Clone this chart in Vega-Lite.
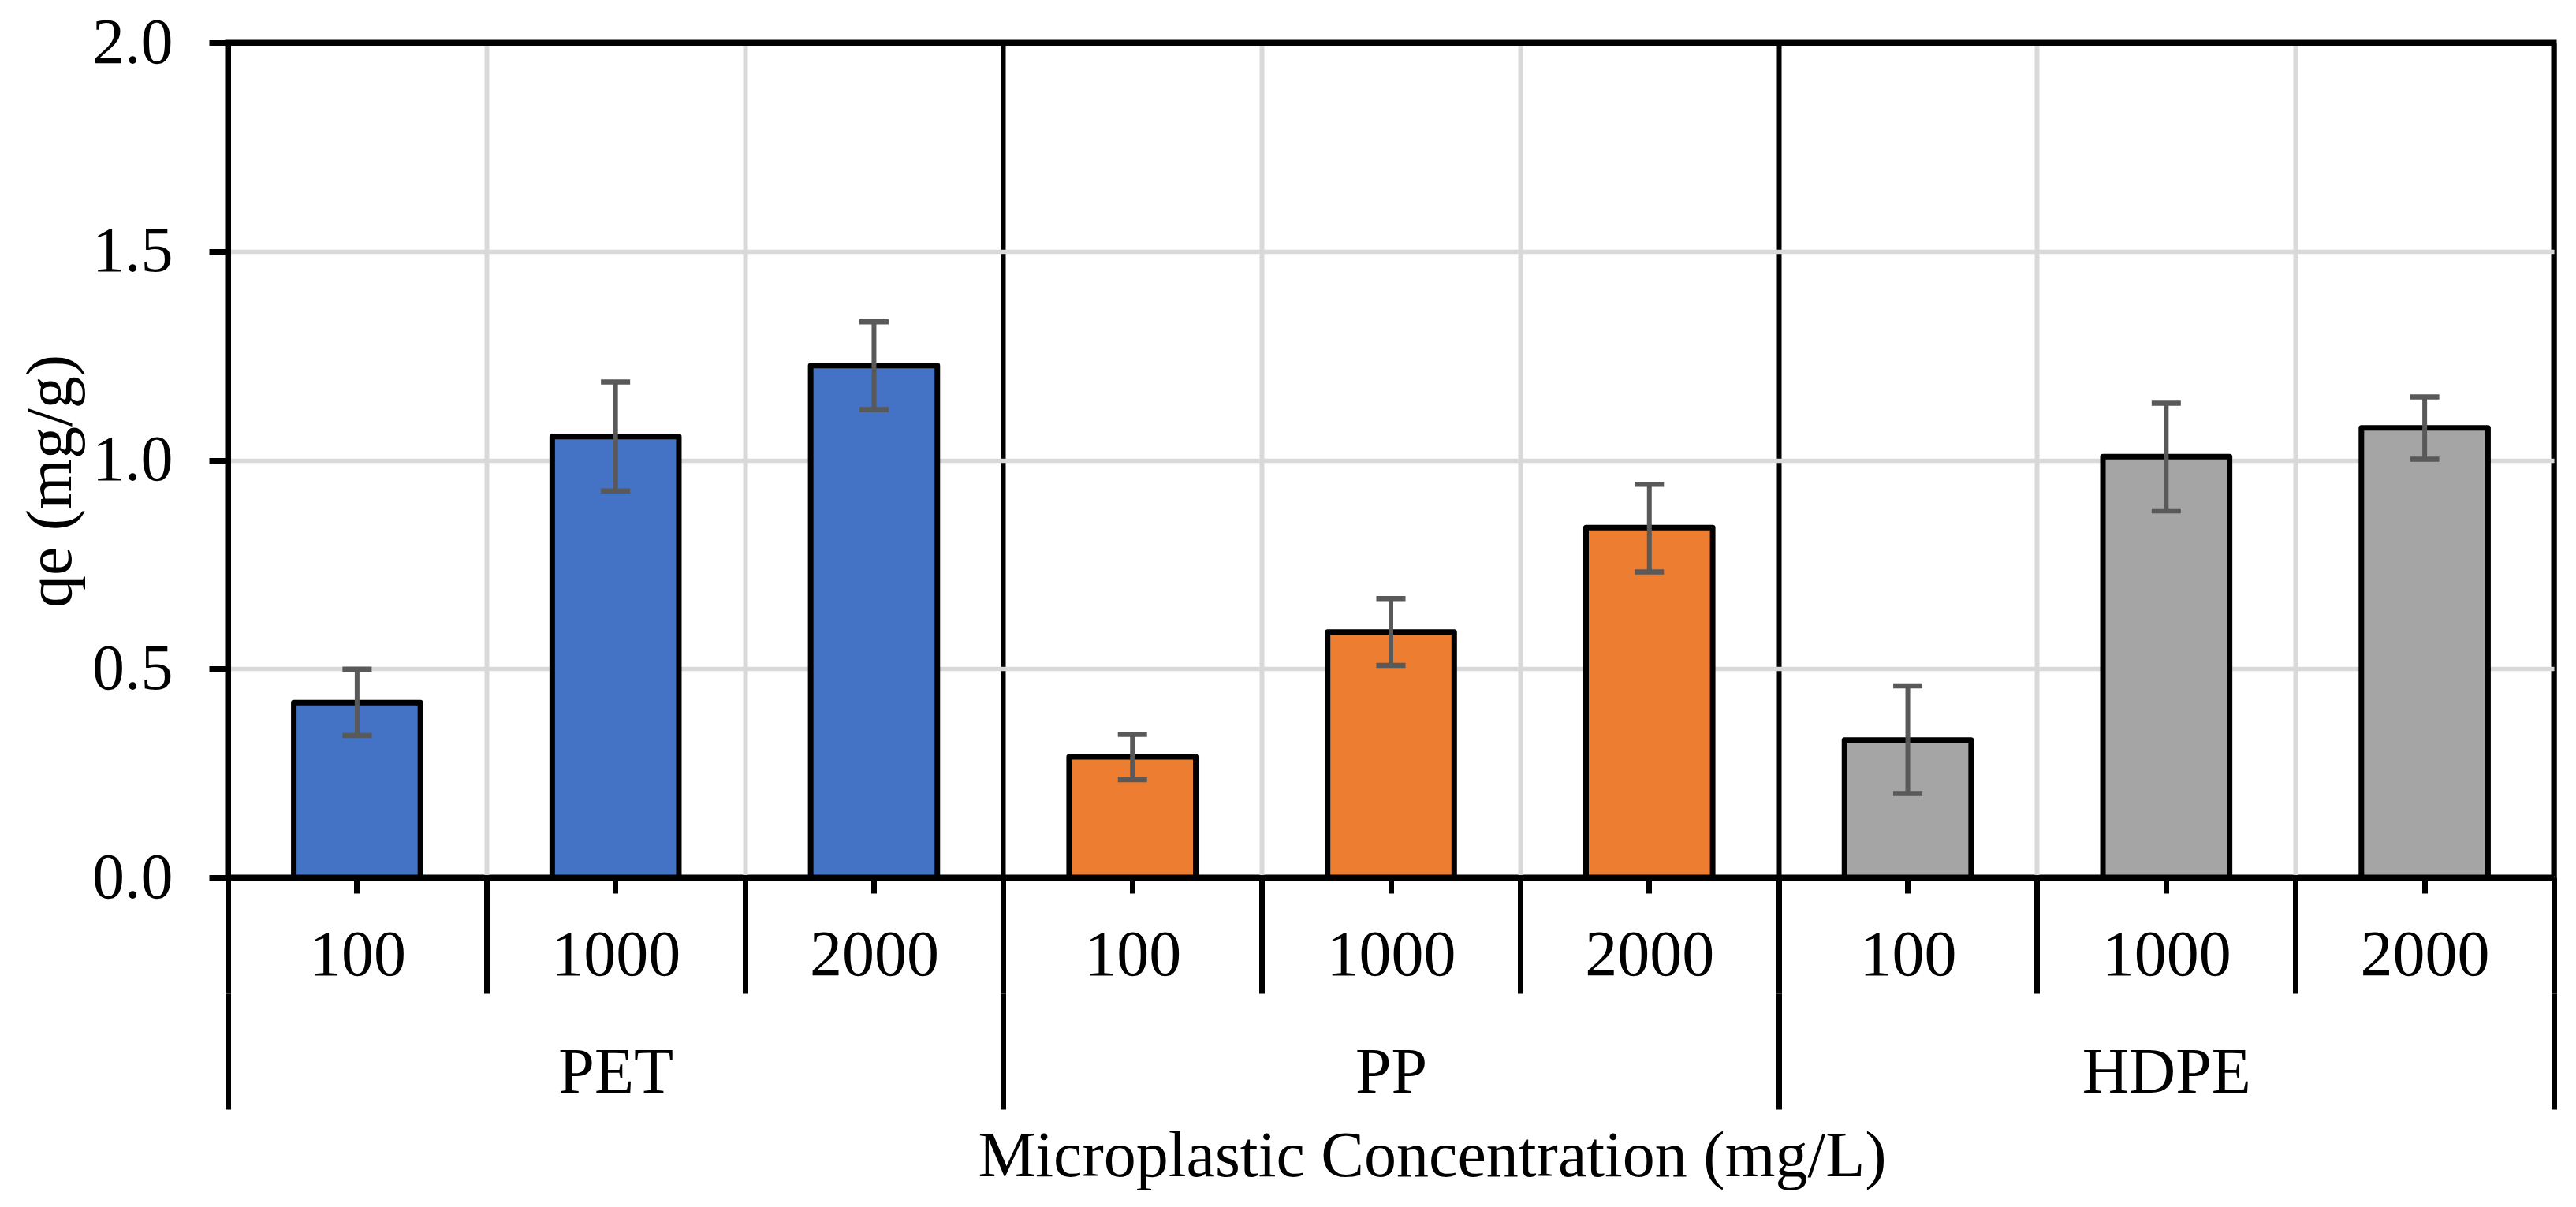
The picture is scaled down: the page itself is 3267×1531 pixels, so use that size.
{
  "$schema": "https://vega.github.io/schema/vega-lite/v6.json",
  "autosize": "none",
  "width": 2950,
  "height": 1059,
  "padding": {"left": 289, "top": 54, "right": 27, "bottom": 418},
  "background": "white",
  "data": {
    "values": [
      {"polymer": "PET", "conc": "100", "cat": "PET|100", "qe": 0.419, "lo": 0.340, "hi": 0.499},
      {"polymer": "PET", "conc": "1000", "cat": "PET|1000", "qe": 1.056, "lo": 0.926, "hi": 1.187},
      {"polymer": "PET", "conc": "2000", "cat": "PET|2000", "qe": 1.226, "lo": 1.121, "hi": 1.331},
      {"polymer": "PP", "conc": "100", "cat": "PP|100", "qe": 0.289, "lo": 0.234, "hi": 0.343},
      {"polymer": "PP", "conc": "1000", "cat": "PP|1000", "qe": 0.588, "lo": 0.508, "hi": 0.668},
      {"polymer": "PP", "conc": "2000", "cat": "PP|2000", "qe": 0.838, "lo": 0.732, "hi": 0.942},
      {"polymer": "HDPE", "conc": "100", "cat": "HDPE|100", "qe": 0.329, "lo": 0.201, "hi": 0.459},
      {"polymer": "HDPE", "conc": "1000", "cat": "HDPE|1000", "qe": 1.008, "lo": 0.878, "hi": 1.136},
      {"polymer": "HDPE", "conc": "2000", "cat": "HDPE|2000", "qe": 1.077, "lo": 1.002, "hi": 1.151}
    ]
  },
  "encoding": {
    "y": {
      "type": "quantitative",
      "scale": {"domain": [0, 2], "nice": false},
      "axis": {
        "orient": "left",
        "title": "qe (mg/g)", "values": [0, 0.5, 1, 1.5, 2], "format": ".1f",
        "grid": true,
        "gridColor": {"condition": {"test": "datum.value >= 2", "value": "black"}, "value": "#D9D9D9"},
        "gridWidth": {"condition": {"test": "datum.value >= 2", "value": 7}, "value": 5.5},
        "domain": true, "domainColor": "black", "domainWidth": 7,
        "ticks": true, "tickColor": "black", "tickWidth": 7, "tickSize": 24,
        "labels": true, "labelPadding": 46, "titlePadding": 10, "titleY": 556
      }
    }
  },
  "resolve": {"axis": {"x": "independent", "y": "shared"}},
  "layer": [
    {
      "mark": {"type": "bar", "width": {"band": 0.49}, "stroke": "black", "strokeWidth": 7, "strokeJoin": "round"},
      "encoding": {
        "x": {
          "field": "cat", "type": "nominal",
          "scale": {"domain": ["PET|100", "PET|1000", "PET|2000", "PP|100", "PP|1000", "PP|2000", "HDPE|100", "HDPE|1000", "HDPE|2000"], "paddingInner": 0, "paddingOuter": 0},
          "axis": {
            "orient": "bottom", "title": null, "tickBand": "extent", "ticks": false,
            "domain": true, "domainColor": "black", "domainWidth": 7,
            "grid": true,
            "gridColor": {"condition": {"test": "datum.index === -1 || datum.value === 'PET|2000' || datum.value === 'PP|2000' || datum.value === 'HDPE|2000'", "value": "black"}, "value": "#D9D9D9"},
            "gridWidth": 6,
            "labelExpr": "datum.value ? split(datum.value, '|')[1] : ''",
            "labelAngle": 0, "labelBaseline": "top", "labelPadding": 58
          }
        },
        "y": {"field": "qe"},
        "color": {
          "field": "polymer", "type": "nominal",
          "scale": {"domain": ["PET", "PP", "HDPE"], "range": ["#4472C4", "#ED7D31", "#A5A5A5"]},
          "legend": null
        }
      }
    },
    {
      "mark": {"type": "rule", "color": "#595959", "strokeWidth": 6},
      "encoding": {
        "x": {
          "field": "cat", "type": "nominal",
          "axis": {"orient": "bottom", "title": null, "tickBand": "extent", "ticks": true, "tickSize": 147, "tickWidth": 7, "tickColor": "black", "labels": false, "domain": false, "grid": false}
        },
        "y": {"field": "lo"},
        "y2": {"field": "hi"}
      }
    },
    {
      "mark": {"type": "tick", "color": "#595959", "size": 37, "thickness": 6.5, "opacity": 1},
      "encoding": {
        "x": {
          "field": "cat", "type": "nominal",
          "axis": {"orient": "bottom", "title": null, "ticks": true, "tickSize": 20, "tickWidth": 7, "tickColor": "black", "labels": false, "domain": false, "grid": false}
        },
        "y": {"field": "lo"}
      }
    },
    {
      "mark": {"type": "tick", "color": "#595959", "size": 37, "thickness": 6.5, "opacity": 1},
      "encoding": {
        "x": {
          "field": "cat", "type": "nominal",
          "axis": {
            "orient": "bottom", "offset": 147, "tickBand": "extent",
            "ticks": true, "tickSize": 147, "tickWidth": 7, "tickColor": "black",
            "tickOpacity": {"condition": {"test": "datum.index === -1 || datum.value === 'PET|2000' || datum.value === 'PP|2000' || datum.value === 'HDPE|2000'", "value": 1}, "value": 0},
            "domain": false, "grid": false,
            "labelExpr": "datum.value && split(datum.value, '|')[1] === '1000' ? split(datum.value, '|')[0] : ''",
            "labelAngle": 0, "labelBaseline": "top", "labelPadding": -87,
            "title": "Microplastic Concentration (mg/L)", "titlePadding": 16, "titleX": 1527
          }
        },
        "y": {"field": "hi"}
      }
    }
  ],
  "config": {
    "font": "Liberation Serif",
    "view": {"stroke": "black", "strokeWidth": 7},
    "axis": {
      "labelFont": "Liberation Serif", "titleFont": "Liberation Serif",
      "labelFontSize": 82, "titleFontSize": 82,
      "labelColor": "black", "titleColor": "black",
      "titleFontWeight": "normal", "labelLimit": 0, "titleLimit": 0
    }
  }
}
